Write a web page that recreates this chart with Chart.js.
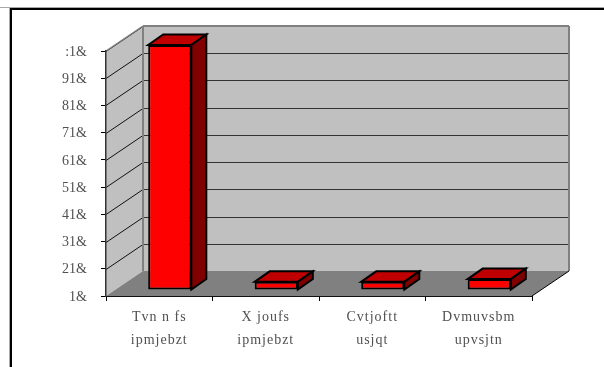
<!DOCTYPE html>
<html>
<head>
<meta charset="utf-8">
<style>
  html, body { margin: 0; padding: 0; background: #fff; }
  canvas { display: block; }
</style>
<script src="https://cdn.jsdelivr.net/npm/chart.js@4"></script>
</head>
<body>
<canvas id="chart" width="604" height="367"></canvas>
<script>
const categories = [["Tvn n fs", "ipmjebzt"], ["X joufs", "ipmjebzt"], ["Cvtjoftt", "usjqt"], ["Dvmuvsbm", "upvsjtn"]];
const shares = [90, 3, 3, 4];
const tickLabels = ["1&", "21&", "31&", "41&", "51&", "61&", "71&", "81&", "91&", ":1&"];

// Receding depth of the box and of each column, in pixels
const WALL_DX = 37, WALL_DY = -25;
const BAR_SHIFT_X = 10.5, BAR_SHIFT_Y = -6;
const BAR_DX = 15, BAR_DY = -10.5;

function poly(ctx, pts, fill, stroke, width) {
  ctx.beginPath();
  pts.forEach((p, i) => i ? ctx.lineTo(p[0], p[1]) : ctx.moveTo(p[0], p[1]));
  ctx.closePath();
  if (fill) { ctx.fillStyle = fill; ctx.fill(); }
  if (stroke) { ctx.strokeStyle = stroke; ctx.lineWidth = width; ctx.stroke(); }
}

function line(ctx, x1, y1, x2, y2, color, width) {
  ctx.beginPath();
  ctx.moveTo(x1, y1);
  ctx.lineTo(x2, y2);
  ctx.strokeStyle = color;
  ctx.lineWidth = width;
  ctx.stroke();
}

// Page frame, then the walls and floor behind the columns
const boxPlugin = {
  id: "box",
  beforeDraw(chart) {
    const { ctx, chartArea: a, scales: { x, y } } = chart;

    // Category captions are tracked out slightly; the value labels are not
    if (!x.trackedLabels) {
      const drawLabels = x.drawLabels;
      x.drawLabels = function (area) {
        ctx.save();
        ctx.letterSpacing = "1px";
        drawLabels.call(this, area);
        ctx.restore();
      };
      x.trackedLabels = true;
    }

    ctx.save();
    ctx.fillStyle = "#a8a8a8";
    ctx.fillRect(0, 7, 604, 1);
    ctx.fillRect(9, 7, 1, 360);
    ctx.fillStyle = "#000";
    ctx.fillRect(10, 8, 594, 2);
    ctx.fillRect(10, 8, 2, 359);

    const L = a.left, R = a.right, T = a.top, B = a.bottom;
    const dx = WALL_DX, dy = WALL_DY;
    poly(ctx, [[L + dx, T + dy], [R + dx, T + dy], [R + dx, B + dy], [L + dx, B + dy]], "#c0c0c0");
    poly(ctx, [[L, T], [L + dx, T + dy], [L + dx, B + dy], [L, B]], "#c0c0c0");
    poly(ctx, [[L, B], [R, B], [R + dx, B + dy], [L + dx, B + dy]], "#808080");

    y.ticks.forEach(t => {
      if (t.value === 0) return;
      const py = Math.round(y.getPixelForValue(t.value)) + 0.5;
      line(ctx, L, py, L + dx, py + dy, "#111", 1);
      line(ctx, L + dx, py + dy, R + dx, py + dy, "#333", 1);
    });

    line(ctx, L, T, L + dx, T + dy, "#808080", 1.5);
    line(ctx, L + dx, T + dy, R + dx, T + dy, "#808080", 2);
    line(ctx, R + dx, T + dy, R + dx, B + dy, "#808080", 2);
    line(ctx, L + dx, T + dy, L + dx, B + dy, "#808080", 2);
    line(ctx, R, B, R + dx, B + dy, "#000", 1);
    ctx.restore();
  },
  // Columns stand in the middle of the floor, so shift them back and add their depth
  beforeDatasetsDraw(chart) {
    const { ctx } = chart;
    ctx.save();
    ctx.translate(BAR_SHIFT_X, BAR_SHIFT_Y);
    chart.getDatasetMeta(0).data.forEach(bar => {
      const l = bar.x - bar.width / 2, r = bar.x + bar.width / 2;
      const t = bar.y, b = bar.base;
      poly(ctx, [[l, t], [r, t], [r + BAR_DX, t + BAR_DY], [l + BAR_DX, t + BAR_DY]], "#c00000", "#000", 2);
      poly(ctx, [[r, t], [r + BAR_DX, t + BAR_DY], [r + BAR_DX, b + BAR_DY], [r, b]], "#800000", "#000", 2);
    });
  },
  afterDatasetsDraw(chart) {
    chart.ctx.restore();
  }
};

new Chart(document.getElementById("chart"), {
  type: "bar",
  data: {
    labels: categories,
    datasets: [{
      data: shares,
      backgroundColor: "#ff0000",
      borderColor: "#000",
      borderWidth: 2,
      borderSkipped: false,
      categoryPercentage: 1,
      barPercentage: 0.405
    }]
  },
  options: {
    responsive: false,
    animation: false,
    layout: { padding: { top: 51, right: 72, bottom: 0, left: 0 } },
    plugins: { legend: { display: false }, tooltip: { enabled: false } },
    scales: {
      x: {
        afterFit(s) { s.height = 71; },
        border: { color: "#111", width: 1 },
        grid: { color: "#000", drawOnChartArea: false, tickLength: 5 },
        ticks: {
          color: "#505050",
          padding: 5,
          maxRotation: 0,
          font: { family: "Liberation Serif", size: 14, lineHeight: "23px" }
        }
      },
      y: {
        min: 0,
        max: 90,
        afterFit(s) { s.width = 106; },
        border: { color: "#333", width: 1.5 },
        grid: { color: "#000", drawOnChartArea: false, tickLength: 5 },
        ticks: {
          stepSize: 10,
          color: "#505050",
          padding: 14,
          labelOffset: 1,
          font: { family: "Liberation Serif", size: 14 },
          callback: (v, i) => tickLabels[i]
        }
      }
    }
  },
  plugins: [boxPlugin]
});
</script>
</body>
</html>
